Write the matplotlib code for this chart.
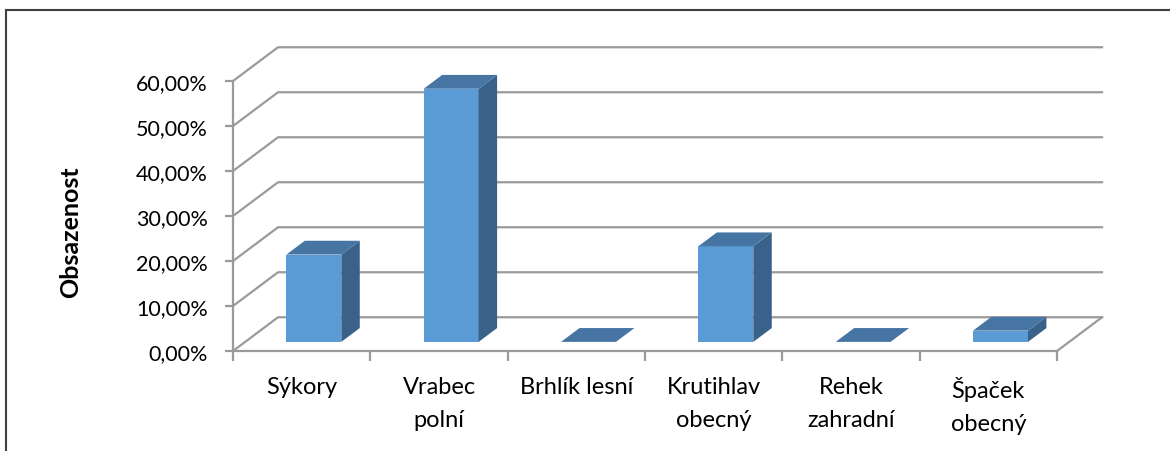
import matplotlib.pyplot as plt
from matplotlib.patches import Polygon
from matplotlib.lines import Line2D

# data
categories = ['Sýkory', 'Vrabec\npolní', 'Brhlík lesní', 'Krutihlav\nobecný',
              'Rehek\nzahradní', 'Špaček\nobecný']
values = [19.4, 56.25, 0.0, 21.25, 0.0, 2.5]
y_ticks = [0, 10, 20, 30, 40, 50, 60]

# colours of the 3D faces
front_col = '#5b9bd5'
top_col = '#4675a3'
side_col = '#396189'
grid_col = '#9a9a9a'

plt.rcParams['font.family'] = ['Lato', 'DejaVu Sans']

fig = plt.figure(figsize=(11.7, 4.52), dpi=100)
# axes = front plane of the 3D box
ax = fig.add_axes([233 / 1170, 100 / 452, 824 / 1170, 270 / 452])
ax.set_xlim(-0.5, len(categories) - 0.5)
ax.set_ylim(0, 60)

# depth of the box in data units
ddx = 0.328
ddy = 7.5
x_end = len(categories) - 0.5

# back wall + left wall gridlines
for v in y_ticks:
    ax.plot([-0.5, -0.5 + ddx, x_end + ddx], [v, v + ddy, v + ddy],
            color=grid_col, lw=1.6, clip_on=False, zorder=1)
# right edge of the floor
ax.plot([x_end, x_end + ddx], [0, ddy], color=grid_col, lw=1.6,
        clip_on=False, zorder=1)

# bars
bw = 0.40
f, b = 0.27, 0.68
for i, v in enumerate(values):
    x0, x1 = i - bw / 2, i + bw / 2
    fx, fy = f * ddx, f * ddy
    bx, by = b * ddx, b * ddy
    if v > 0:
        ax.add_patch(Polygon([(x0 + fx, fy), (x1 + fx, fy), (x1 + fx, fy + v), (x0 + fx, fy + v)],
                             closed=True, fc=front_col, ec='none', zorder=3, clip_on=False))
        ax.add_patch(Polygon([(x1 + fx, fy), (x1 + bx, by), (x1 + bx, by + v), (x1 + fx, fy + v)],
                             closed=True, fc=side_col, ec='none', zorder=3, clip_on=False))
    ax.add_patch(Polygon([(x0 + fx, fy + v), (x1 + fx, fy + v), (x1 + bx, by + v), (x0 + bx, by + v)],
                         closed=True, fc=top_col, ec='none', zorder=3, clip_on=False))

# axes styling
ax.set_facecolor('none')
for s in ['top', 'right']:
    ax.spines[s].set_visible(False)
for s in ['left', 'bottom']:
    ax.spines[s].set_color(grid_col)
    ax.spines[s].set_linewidth(1.6)
    ax.spines[s].set_zorder(2)

ax.set_yticks(y_ticks)
ax.set_yticklabels([f'{v:.2f}'.replace('.', ',') + '%' for v in y_ticks])
ax.tick_params(axis='y', length=6, width=1.6, color=grid_col, pad=12,
               labelsize=15.5, labelcolor='black')

ax.set_xticks([i - 0.5 for i in range(len(categories) + 1)])
ax.set_xticklabels([])
ax.set_xticks(range(len(categories)), minor=True)
ax.set_xticklabels(categories, minor=True, fontsize=17, linespacing=1.7)
ax.tick_params(axis='x', which='major', length=7.5, width=1.6, color=grid_col)
ax.tick_params(axis='x', which='minor', length=0, pad=18)

ax.set_ylabel('Obsazenost', fontsize=18, fontweight='bold')
ax.yaxis.set_label_coords(-0.183, 0.444)

# chart border (only top and left visible in the crop)
fig.add_artist(Line2D([6 / 1170, 6 / 1170], [0, 441 / 452], color='#404040', lw=1.5))
fig.add_artist(Line2D([6 / 1170, 1], [441 / 452, 441 / 452], color='#404040', lw=1.5))

fig.savefig('out.png', dpi=100)
